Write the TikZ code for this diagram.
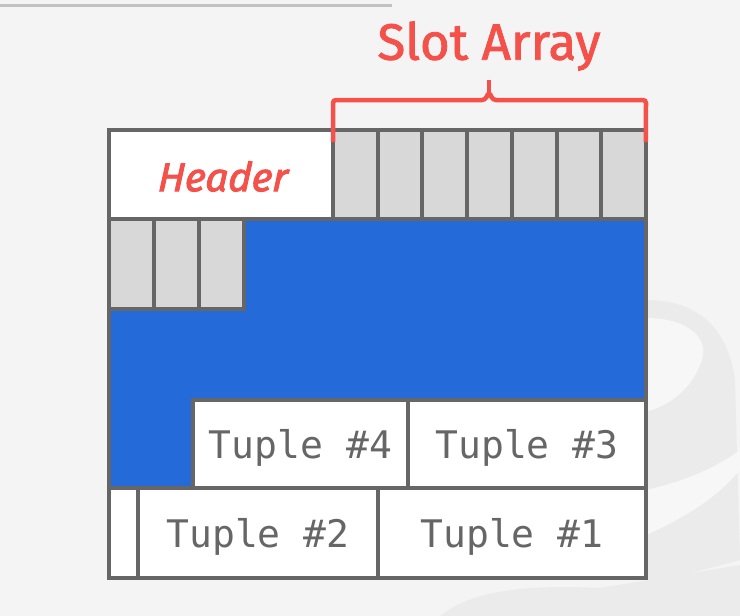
\documentclass[tikz,border=0pt]{standalone}
\usepackage{fontspec}
\newfontfamily\slotfont[FakeBold=1.6]{Fira Sans}
\newfontfamily\hdrfont[FakeBold=2.2,FakeSlant=0.08]{Fira Sans}
\newfontfamily\monofont{DejaVu Sans Mono}
\definecolor{bgc}{HTML}{F4F4F4}
\definecolor{wmc}{HTML}{EBEBEB}
\definecolor{wml}{HTML}{F7F7F7}
\definecolor{linec}{HTML}{666666}
\definecolor{bluec}{HTML}{246AD9}
\definecolor{slotc}{HTML}{D8D8D8}
\definecolor{redc}{HTML}{F4514A}
\definecolor{txtc}{HTML}{666666}
\definecolor{topline}{HTML}{C2C2C2}
\tikzset{
  cell/.style={draw=linec, line width=4pt, fill=white, anchor=north west, inner sep=0pt, outer sep=0pt},
  slotcell/.style={cell, fill=slotc},
  tup/.style={cell, font=\monofont\fontsize{38}{38}\selectfont, text=txtc, text depth=-6pt},
}
\begin{document}
\begin{tikzpicture}[x=1pt,y=-1pt]
\useasboundingbox (0,0) rectangle (740,616);
\fill[bgc] (0,0) rectangle (740,616);
% faint watermark
\fill[wmc] (440,616) .. controls (470,592) and (520,584) .. (600,588) -- (740,565) -- (740,616) -- cycle;
\fill[wmc] (646,300) .. controls (700,300) and (728,330) .. (735,380) -- (740,560) -- (646,585) -- cycle;
\fill[wml] (646,318) .. controls (690,318) and (712,340) .. (700,365) .. controls (690,390) and (670,405) .. (646,412) -- cycle;
\fill[wml] (646,490) .. controls (690,480) and (720,465) .. (740,450) -- (740,470) .. controls (715,500) and (680,520) .. (646,535) -- cycle;
\draw[topline, line width=3pt] (0,5) -- (392,5);

% header row
\node[cell, minimum width=224pt, minimum height=89pt] (hdr) at (109,130) {};
\node[font=\hdrfont\itshape\fontsize{40}{40}\selectfont, text=redc] (hdrtxt) at ([xshift=1pt,yshift=-2pt]hdr.center) {Header};
\foreach \i in {0,...,6} {
  \node[slotcell, minimum width=44.71pt, minimum height=89pt] (s\i) at ({333+44.71*\i},130) {};
}
% blue free space
\fill[bluec, draw=linec, line width=4pt] (244,219) -- (646,219) -- (646,400) -- (193,400) -- (193,488) -- (109,488) -- (109,309) -- (244,309) -- cycle;
% second row slots
\foreach \i in {0,1,2} {
  \node[slotcell, minimum width=45pt, minimum height=90pt] (t\i) at ({109+45*\i},219) {};
}
% tuples
\node[tup, minimum width=215pt, minimum height=88pt] (tu4) at (193,400) {Tuple \#4};
\node[tup, minimum width=238pt, minimum height=88pt] (tu3) at (408,400) {Tuple \#3};
\node[cell, minimum width=29pt, minimum height=90pt] (sm) at (109,488) {};
\node[tup, minimum width=240pt, minimum height=90pt] (tu2) at (138,488) {Tuple \#2};
\node[tup, minimum width=268pt, minimum height=90pt] (tu1) at (378,488) {Tuple \#1};

% slot array brace and label
\node[font=\slotfont\fontsize{51}{51}\selectfont, text=redc] (slbl) at (489,46) {Slot Array};
\coordinate (bl) at (s0.north west);
\coordinate (br) at (s6.north east);
\draw[redc, line width=4.5pt, rounded corners=3pt] ([yshift=-12pt]bl) -- (333,100) -- (485,100) -- (489,92) -- (493,100) -- (646,100) -- ([yshift=-12pt]br);
\draw[redc, line width=4.5pt] (489,97) -- (489,80);
\end{tikzpicture}
\end{document}
